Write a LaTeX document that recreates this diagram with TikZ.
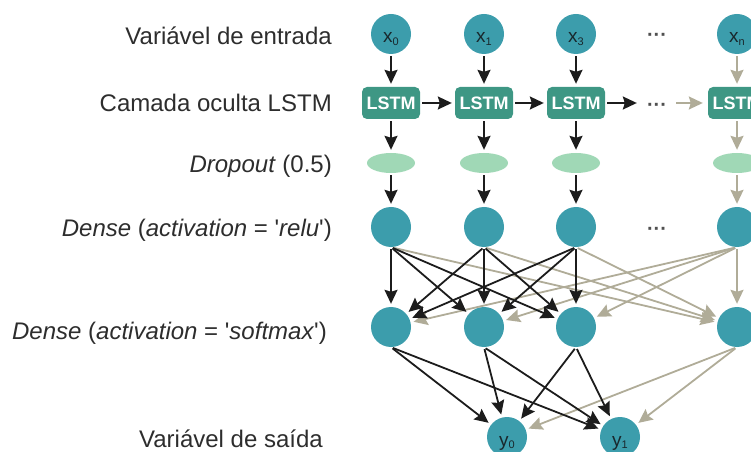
\documentclass[tikz,border=0pt]{standalone}
\usepackage{fontspec}
\setmainfont{Liberation Sans}
\usetikzlibrary{arrows.meta,shapes.geometric}

\definecolor{nodeteal}{RGB}{60,157,172}
\definecolor{boxgreen}{RGB}{62,151,132}
\definecolor{dropgreen}{RGB}{160,216,182}
\definecolor{fadegray}{RGB}{176,172,152}
\definecolor{inkblack}{RGB}{28,28,28}
\definecolor{labelgray}{RGB}{45,45,45}
\definecolor{nodeink}{RGB}{25,40,45}
\definecolor{dotgray}{RGB}{80,80,80}

\tikzset{
  neuron/.style={circle, fill=nodeteal, minimum size=40bp, inner sep=0pt,
    text=nodeink, font=\fontsize{19bp}{19bp}\selectfont,
    text height=18bp, text depth=0bp},
  lstmbox/.style={rectangle, rounded corners=5bp, fill=boxgreen,
    minimum width=58bp, minimum height=32bp, inner sep=0pt, text=white,
    font=\bfseries\fontsize{18bp}{18bp}\selectfont},
  dropnode/.style={ellipse, fill=dropgreen, minimum width=48bp,
    minimum height=20bp, inner sep=0pt},
  rowtext/.style={anchor=base east, text=labelgray, inner sep=0pt,
    font=\fontsize{24bp}{28bp}\selectfont},
  ellipsisnode/.style={text=dotgray, inner sep=0pt,
    font=\bfseries\fontsize{20bp}{20bp}\selectfont,
    text height=17bp, text depth=0bp},
  wire/.style={color=inkblack, line width=1.8bp, shorten >=3bp, shorten <=2bp,
    -{Stealth[length=14bp,width=13bp,inset=2bp]}},
  wirefade/.style={wire, color=fadegray}
}
\newcommand{\subidx}[1]{\raisebox{-0.12em}{\fontsize{11bp}{11bp}\selectfont #1}}

\begin{document}
\begin{tikzpicture}[x=1bp, y=-1bp]
  \clip (0,0) rectangle (751,452);

  % row captions
  \node[rowtext] (cap1) at (332,45) {Variável de entrada};
  \node[rowtext] (cap2) at (332,112) {Camada oculta LSTM};
  \node[rowtext] (cap3) at (332,173) {\textit{Dropout} (0.5)};
  \node[rowtext] (cap4) at (332,237) {\textit{Dense} (\textit{activation} = \textquotesingle\textit{relu}\textquotesingle)};
  \node[rowtext] (cap5) at (327,340) {\textit{Dense} (\textit{activation} = \textquotesingle\textit{softmax}\textquotesingle)};
  \node[rowtext] (cap6) at (323,447) {Variável de saída};

  % input variables
  \node[neuron] (x0) at (391,34) {x\subidx{0}};
  \node[neuron] (x1) at (484,34) {x\subidx{1}};
  \node[neuron] (x3) at (576,34) {x\subidx{3}};
  \node[neuron] (xn) at (737,34) {x\subidx{n}};
  \node[ellipsisnode] (xdots) at (657,33) {···};

  % LSTM layer
  \node[lstmbox] (l0) at (391,103) {LSTM};
  \node[lstmbox] (l1) at (484,103) {LSTM};
  \node[lstmbox] (l3) at (576,103) {LSTM};
  \node[lstmbox] (ln) at (737,103) {LSTM};
  \node[ellipsisnode] (ldots) at (657,103) {···};

  % dropout
  \node[dropnode] (p0) at (391,163) {};
  \node[dropnode] (p1) at (484,163) {};
  \node[dropnode] (p3) at (576,163) {};
  \node[dropnode] (pn) at (737,163) {};

  % dense relu
  \node[neuron] (d0) at (391,227) {};
  \node[neuron] (d1) at (484,227) {};
  \node[neuron] (d3) at (576,227) {};
  \node[neuron] (dn) at (737,227) {};
  \node[ellipsisnode] (ddots) at (657,227) {···};

  % dense softmax
  \node[neuron] (e0) at (391,327) {};
  \node[neuron] (e1) at (484,327) {};
  \node[neuron] (e3) at (576,327) {};
  \node[neuron] (en) at (737,327) {};

  % outputs
  \node[neuron] (y0) at (507,437) {y\subidx{0}};
  \node[neuron] (y1) at (620,437) {y\subidx{1}};

  % vertical flow per column
  \foreach \c in {0,1,3} {
    \draw[wire] (x\c) -- (l\c);
    \draw[wire] (l\c) -- (p\c);
    \draw[wire] (p\c) -- (d\c);
  }
  \draw[wirefade] (xn) -- (ln);
  \draw[wirefade] (ln) -- (pn);
  \draw[wirefade] (pn) -- (dn);

  % recurrent links
  \draw[wire] (l0) -- (l1);
  \draw[wire] (l1) -- (l3);
  \draw[wire, shorten >=10bp] (l3) -- (ldots);
  \draw[wirefade, shorten <=9bp, shorten >=5bp] (ldots) -- (ln);

  % dense relu -> dense softmax (faded links first)
  \begin{scope}[every path/.append style={shorten >=6bp}]
    \foreach \s in {0,1,3} {
      \draw[wirefade] (d\s.south) -- (en);
    }
    \foreach \t in {0,1,3} {
      \draw[wirefade] (dn.south) -- (e\t);
    }
    \draw[wirefade] (dn.south) -- (en);
    \foreach \s in {0,1,3} {
      \foreach \t in {0,1,3} {
        \draw[wire] (d\s.south) -- (e\t);
      }
    }
  \end{scope}

  % dense softmax -> outputs
  \begin{scope}[every path/.append style={shorten >=6bp, shorten <=4bp}]
    \draw[wirefade] (en.south) -- (y0);
    \draw[wirefade] (en.south) -- (y1);
    \foreach \s in {0,1,3} {
      \draw[wire] (e\s.south) -- (y0);
      \draw[wire] (e\s.south) -- (y1);
    }
  \end{scope}
\end{tikzpicture}
\end{document}
